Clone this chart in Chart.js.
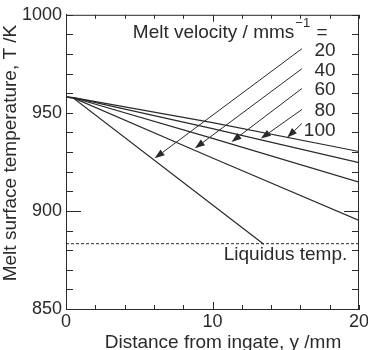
<!DOCTYPE html>
<html>
<head>
<meta charset="utf-8">
<script src="https://cdn.jsdelivr.net/npm/chart.js@4.4.0/dist/chart.umd.min.js"></script>
<style>
  html, body { margin: 0; padding: 0; background: #fff; }
  #wrap { width: 368px; height: 350px; }
</style>
</head>
<body>
<div id="wrap"><canvas id="chart"></canvas></div>
<script>
// melt velocity (mm/s) and the surface temperature along the distance from ingate
var velocities = ["20", "40", "60", "80", "100"];
var dist20 = [0, 0.5, 13.5];
var temp20 = [958, 957.6, 883];
var distOther = [0, 0.5, 10, 20];
var temp40 = [958, 957.6, 927, 895.2];
var temp60 = [958, 957.7, 937, 914.7];
var temp80 = [958, 957.8, 942, 924.6];
var temp100 = [958, 957.8, 945, 930.3];
var liquidus = 883.3;

// arrows from label to curve, in data units [x0, y0, x1, y1]
var arrows = [
  [16.1, 982.7, 6.05, 926.8],
  [16.1, 972.5, 8.8, 931.9],
  [16.1, 962.4, 11.3, 935.2],
  [16.1, 951.7, 13.3, 936.9],
  [16.1, 944.6, 15.1, 937.4]
];
var labelY = [981.7, 971.6, 961.8, 951.2, 941.0];

var ink = "#2a2a2a";
var fontFam = "'Liberation Sans', Arial, Helvetica, sans-serif";

function pts(xs, ys) {
  return xs.map(function (x, i) { return { x: x, y: ys[i] }; });
}

var lineStyle = { borderColor: ink, borderWidth: 1.2, pointRadius: 0, fill: false, tension: 0 };

var data = {
  datasets: [
    Object.assign({ label: velocities[0], data: pts(dist20, temp20) }, lineStyle),
    Object.assign({ label: velocities[1], data: pts(distOther, temp40) }, lineStyle),
    Object.assign({ label: velocities[2], data: pts(distOther, temp60) }, lineStyle),
    Object.assign({ label: velocities[3], data: pts(distOther, temp80) }, lineStyle),
    Object.assign({ label: velocities[4], data: pts(distOther, temp100) }, lineStyle),
    {
      label: "Liquidus temp.",
      data: [{ x: 0, y: liquidus }, { x: 20, y: liquidus }],
      borderColor: ink, borderWidth: 1, borderDash: [3, 2],
      pointRadius: 0, fill: false
    }
  ]
};

var decor = {
  id: "decor",
  afterDraw: function (chart) {
    var c = chart.ctx, a = chart.chartArea;
    var xs = chart.scales.x, ys = chart.scales.y;
    c.save();
    c.strokeStyle = ink;
    c.fillStyle = ink;
    c.lineWidth = 1;

    // top and right frame
    c.beginPath();
    c.moveTo(a.left, a.top + 0.5); c.lineTo(a.right, a.top + 0.5);
    c.moveTo(a.right - 0.5, a.top); c.lineTo(a.right - 0.5, a.bottom);
    c.stroke();

    // inward ticks
    c.beginPath();
    for (var v = 0; v <= 20; v += 2) {
      var px = Math.round(xs.getPixelForValue(v)) + 0.5;
      var len = (v === 10) ? 7 : 4;
      c.moveTo(px, a.bottom); c.lineTo(px, a.bottom - len);
      c.moveTo(px, a.top); c.lineTo(px, a.top + len);
    }
    for (var t = 850; t <= 1000; t += 10) {
      var py = Math.round(ys.getPixelForValue(t)) + 0.5;
      var ylen = (t === 900) ? 15 : 7;
      c.moveTo(a.left, py); c.lineTo(a.left + ylen, py);
      c.moveTo(a.right, py); c.lineTo(a.right - ylen, py);
    }
    c.stroke();

    // arrows
    arrows.forEach(function (ar) {
      var x0 = xs.getPixelForValue(ar[0]), y0 = ys.getPixelForValue(ar[1]);
      var x1 = xs.getPixelForValue(ar[2]), y1 = ys.getPixelForValue(ar[3]);
      var ang = Math.atan2(y1 - y0, x1 - x0);
      var hl = 10, hw = 3.5;
      c.beginPath();
      c.moveTo(x0, y0);
      c.lineTo(x1 - hl * Math.cos(ang), y1 - hl * Math.sin(ang));
      c.stroke();
      c.beginPath();
      c.moveTo(x1, y1);
      c.lineTo(x1 - hl * Math.cos(ang) + hw * Math.sin(ang), y1 - hl * Math.sin(ang) - hw * Math.cos(ang));
      c.lineTo(x1 - hl * Math.cos(ang) - hw * Math.sin(ang), y1 - hl * Math.sin(ang) + hw * Math.cos(ang));
      c.closePath();
      c.fill();
    });

    // velocity labels
    c.font = "19px " + fontFam;
    c.textBaseline = "middle";
    c.textAlign = "right";
    velocities.forEach(function (lab, i) {
      c.fillText(lab, xs.getPixelForValue(18.4), ys.getPixelForValue(labelY[i]));
    });

    // header "Melt velocity / mms^-1 ="
    c.textAlign = "left";
    var hx = xs.getPixelForValue(4.56), hy = ys.getPixelForValue(990.8);
    var main = "Melt velocity / mms";
    c.fillText(main, hx, hy);
    var w = c.measureText(main).width;
    c.font = "13px " + fontFam;
    c.fillText("\u22121", hx + w + 1, hy - 9);
    var w2 = c.measureText("\u22121").width;
    c.font = "19px " + fontFam;
    c.fillText(" =", hx + w + w2 + 2, hy);

    // liquidus label
    c.textAlign = "right";
    c.fillText("Liquidus temp.", xs.getPixelForValue(19.2), ys.getPixelForValue(877.5));

    // axis titles
    c.textAlign = "center";
    c.fillText("Distance from ingate, y /mm", 223, 343);
    c.save();
    c.translate(11, 153);
    c.rotate(-Math.PI / 2);
    c.fillText("Melt surface temperature, T /K", 0, 0);
    c.restore();

    c.restore();
  }
};

var options = {
  responsive: true,
  maintainAspectRatio: false,
  animation: false,
  layout: { padding: { top: 14, right: 9, bottom: 0, left: 0 } },
  plugins: { legend: { display: false }, tooltip: { enabled: false } },
  scales: {
    x: {
      type: "linear", min: 0, max: 20,
      grid: { display: false, drawTicks: false },
      border: { display: true, color: ink, width: 1 },
      ticks: { stepSize: 10, maxRotation: 0, padding: 2, color: ink, font: { size: 18, family: fontFam } },
      afterFit: function (s) { s.height = 41; s.paddingRight = 0; }
    },
    y: {
      type: "linear", min: 850, max: 1000,
      grid: { display: false, drawTicks: false },
      border: { display: true, color: ink, width: 1 },
      ticks: {
        stepSize: 50, padding: 4, color: ink, font: { size: 18, family: fontFam },
        callback: function (v) { return String(v); }
      },
      afterFit: function (s) { s.width = 66; }
    }
  }
};

var ctx = document.getElementById("chart");
new Chart(ctx, { type: "line", data: data, options: options, plugins: [decor] });
</script>
</body>
</html>
